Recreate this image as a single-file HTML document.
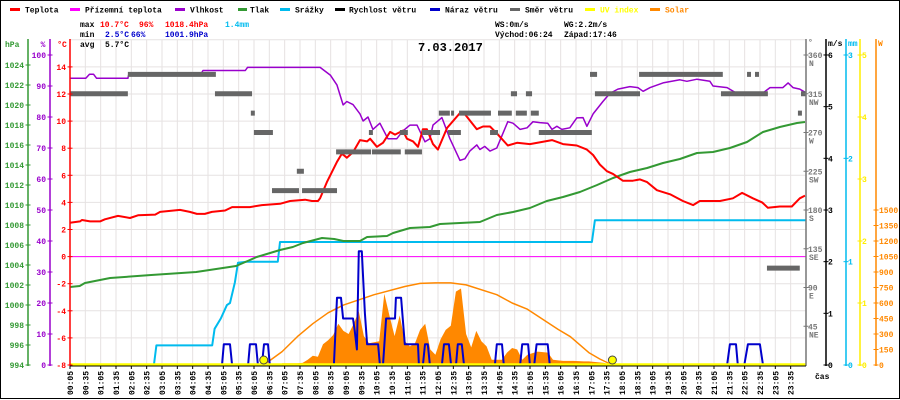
<!DOCTYPE html>
<html><head><meta charset="utf-8"><style>
html,body{margin:0;padding:0;background:#fff;}
svg{display:block;font-family:"Liberation Mono",monospace;}
</style></head><body>
<svg id="chart" width="900" height="400" viewBox="0 0 900 400" xmlns="http://www.w3.org/2000/svg">
<rect x="0.5" y="0.5" width="899" height="398" fill="#fff" stroke="#000"/>
<g id="grid"></g>
<g id="series"></g>
<g id="axes"></g>
<g id="legend" font-size="8" font-weight="bold">
  <g><rect x="10" y="8" width="10" height="3" fill="#f00"/><text x="25" y="12.5">Teplota</text></g>
  <g><rect x="70" y="8" width="10" height="3" fill="#f0f"/><text x="85" y="12.5">Přízemní teplota</text></g>
  <g><rect x="175" y="8" width="10" height="3" fill="#90c"/><text x="190" y="12.5">Vlhkost</text></g>
  <g><rect x="238" y="8" width="9" height="3" fill="#393"/><text x="250" y="12.5">Tlak</text></g>
  <g><rect x="280" y="8" width="10" height="3" fill="#0be"/><text x="295" y="12.5">Srážky</text></g>
  <g><rect x="335" y="8" width="10" height="3" fill="#000"/><text x="349" y="12.5">Rychlost větru</text></g>
  <g><rect x="430" y="8" width="10" height="3" fill="#00c"/><text x="445" y="12.5">Náraz větru</text></g>
  <g><rect x="510" y="8" width="10" height="3" fill="#666"/><text x="525" y="12.5">Směr větru</text></g>
  <g><rect x="585" y="8" width="10" height="3" fill="#ff0"/><text x="600" y="12.5" fill="#ff0">UV index</text></g>
  <g><rect x="650" y="8" width="10" height="3" fill="#f80"/><text x="665" y="12.5" fill="#f80">Solar</text></g>
</g>
<g font-size="8" font-weight="bold">
  <text x="80" y="27">max</text><text x="100" y="27" fill="#f00">10.7°C</text><text x="139" y="27" fill="#f00">96%</text><text x="165" y="27" fill="#f00">1018.4hPa</text><text x="225" y="27" fill="#0be">1.4mm</text>
  <text x="80" y="37">min</text><text x="105" y="37" fill="#00c">2.5°C</text><text x="131" y="37" fill="#00c">66%</text><text x="165" y="37" fill="#00c">1001.9hPa</text>
  <text x="80" y="47">avg</text><text x="105" y="47">5.7°C</text>
  <text x="495" y="27">WS:0m/s</text><text x="564" y="27">WG:2.2m/s</text>
  <text x="495" y="37">Východ:06:24</text><text x="564" y="37">Západ:17:46</text>
</g>
<text x="418" y="51" font-size="12" font-weight="bold">7.03.2017</text>
<text x="815" y="379" font-size="8" font-weight="bold">čas</text>
</svg>
<script>
// ---- data ----
const tempT=[0.08,0.41,0.47,0.74,1.06,1.22,1.65,2.04,2.3,2.86,3.02,3.67,3.99,4.22,4.48,4.71,5.14,5.37,5.95,6.34,6.93,7.26,7.75,7.97,8.17,8.24,8.46,8.79,8.95,9.11,9.31,9.54,9.77,9.87,10.09,10.29,10.52,10.68,10.94,11.07,11.27,11.43,11.59,11.72,11.92,12.08,12.38,12.8,12.96,13.35,13.55,13.78,14.0,14.36,14.66,15.08,15.8,16.16,16.61,16.94,17.14,17.36,17.59,17.79,18.11,18.44,18.67,18.9,19.22,19.65,20.07,20.4,20.62,21.28,21.7,22.0,22.35,22.65,22.84,23.23,23.62,23.88,24.05];
const tempV=[2.5,2.6,2.7,2.6,2.6,2.75,3.0,2.85,3.05,3.1,3.3,3.45,3.3,3.15,3.15,3.3,3.4,3.65,3.65,3.8,3.9,4.1,4.2,4.1,4.1,4.3,5.5,7.0,7.6,7.3,7.7,8.6,8.5,8.7,8.1,8.4,9.2,9.0,9.3,8.7,8.5,8.1,9.4,9.4,8.3,7.9,9.5,10.6,10.5,9.4,9.6,9.6,9.1,8.2,8.4,8.3,8.6,8.3,8.2,7.9,7.5,6.8,6.3,6.1,5.6,5.6,5.7,5.5,4.9,4.6,4.1,3.8,4.1,4.1,4.3,4.7,4.3,4.0,3.6,3.7,3.7,4.3,4.5];
const humT=[0.08,0.6,0.72,0.85,0.95,1.97,2.0,4.35,4.42,5.8,5.87,8.24,8.57,8.79,8.99,9.11,9.31,9.54,9.64,9.8,9.96,10.19,10.45,10.74,10.94,11.17,11.4,11.66,11.82,11.92,12.21,12.47,12.8,12.96,13.12,13.35,13.45,13.61,13.78,14.0,14.17,14.36,14.53,14.76,14.99,15.18,15.4,15.66,15.8,15.96,16.12,16.38,16.61,16.81,16.94,17.14,17.46,17.69,17.95,18.34,18.6,18.77,19.0,19.42,19.97,20.2,20.53,20.95,21.05,21.51,21.93,22.58,22.91,23.33,23.5,23.66,23.88,24.05];
const humV=[92.5,92.5,93.8,93.8,92.5,92.5,93.8,93.8,95,95,96,96,93.5,90.3,83.9,85,84,81,78.7,80,76,78,73,73,75.5,77.4,77.4,72,73,77.4,79.8,73,66,66.5,69,71,69.5,70.5,69,70,74,78.5,78,76,76.5,78.5,78.2,78,76,77,76,76.5,79.7,79.8,77,81,85,87.6,89,89.8,89.5,88.3,89.5,91,92,91.5,92.2,91.5,90,89.5,87,87,89.5,89.5,91,89.5,89,88];
const presT=[0.08,0.4,0.57,1.39,2.73,4.2,5.5,5.95,6.17,6.5,6.93,7.35,7.68,8.3,8.7,9.0,9.54,9.77,10.42,10.62,11.17,11.82,12.15,13.45,14.0,14.53,15.08,15.63,16.16,16.71,17.27,17.79,18.34,18.9,19.42,19.97,20.53,21.05,21.6,22.16,22.68,23.23,23.79,24.05];
const presV=[1001.8,1001.9,1002.2,1002.7,1003.0,1003.3,1003.9,1004.5,1004.8,1005.1,1005.5,1005.8,1006.2,1006.7,1006.6,1006.4,1006.4,1006.8,1006.9,1007.2,1007.7,1007.8,1008.1,1008.3,1009.0,1009.3,1009.7,1010.4,1010.8,1011.3,1012.0,1012.7,1013.3,1013.7,1014.2,1014.6,1015.2,1015.3,1015.7,1016.3,1017.3,1017.8,1018.2,1018.3];
const rainT=[0.08,2.82,2.9,4.72,4.8,5.0,5.2,5.3,5.46,5.56,5.85,6.86,6.93,17.1,17.2,24.08];
const rainV=[0,0,0.19,0.19,0.35,0.45,0.58,0.6,0.8,0.99,1.0,1.0,1.19,1.19,1.4,1.4];
const gustT=[0.08,5.04,5.1,5.3,5.37,5.89,5.95,6.15,6.21,6.34,6.41,6.54,6.6,8.69,8.79,8.92,8.99,9.31,9.37,9.44,9.5,9.6,9.7,9.77,10.13,10.19,10.29,10.39,10.68,10.71,10.88,11.0,11.43,11.46,11.59,11.66,11.75,11.82,12.21,12.28,12.44,12.51,12.67,12.73,12.86,12.93,13.94,14.0,14.17,14.23,14.76,14.83,15.02,15.08,15.22,15.3,15.66,15.73,21.51,21.6,21.8,21.86,22.07,22.19,22.58,22.68,24.08];
const gustV=[0,0,0.4,0.4,0,0,0.4,0.4,0,0,0.4,0.4,0,0,1.3,1.3,0.9,0.9,0.65,0.3,2.2,2.2,1.0,0.4,0.4,0,0,0.9,0.9,1.3,1.3,0.4,0.4,0,0,0.4,0.4,0,0,0.4,0.4,0,0,0.4,0.4,0,0,0.4,0.4,0,0,0.4,0.4,0,0,0.4,0.4,0,0,0.4,0.4,0,0,0.4,0.4,0,0];
const solarStart=7.0;
const solarV=[16,16,16,16,20,50,90,80,200,240,290,400,330,300,400,520,280,210,220,230,690,480,280,480,230,180,210,340,400,150,100,250,340,380,710,740,300,170,330,230,180,50,50,50,120,165,150,50,100,115,130,125,120,50,45,40,40,40,38,35,35,30,25,20,5];
const clearT=[6.4,7,7.5,8,8.5,9,10,11,11.5,12,12.5,13,14,14.5,15,16,16.4,17,17.36,17.77];
const clearV=[0,130,275,400,505,580,680,760,790,795,795,775,680,600,540,345,274,120,58,0];
const dirStart=[0.08,1.97,4.81,5.98,6.08,6.67,7.48,7.65,8.76,9.83,9.93,10.84,11.0,11.56,12.11,11.82,12.41,12.51,12.77,13.78,14.04,14.46,14.62,14.95,15.11,15.37,17.04,17.2,18.64,21.31,22.16,22.42,22.81,23.82,23.92];
const dirEnd=[1.97,4.84,6.02,6.11,6.7,7.55,7.71,8.79,9.9,9.96,10.87,11.1,11.56,12.15,12.47,12.11,12.83,12.6,13.81,14.04,14.49,14.66,14.98,15.15,15.37,17.1,17.27,18.67,21.37,22.84,22.29,22.55,23.88,23.95,24.1];
const dirV=[315,337.5,315,292.5,270,202.5,225,202.5,247.5,270,247.5,270,247.5,270,292.5,270,270,292.5,292.5,270,292.5,315,292.5,315,292.5,270,337.5,315,337.5,315,337.5,337.5,112.5,292.5,315];
const sunEvents=[6.4,17.77];
const xLabels=[];for(let i=0;i<48;i++){const m=5+i*30;xLabels.push(String(Math.floor(m/60)).padStart(2,'0')+':'+String(m%60).padStart(2,'0'));}
const hpaTicks=[994,996,998,1000,1002,1004,1006,1008,1010,1012,1014,1016,1018,1020,1022,1024];
const humTicks=[0,10,20,30,40,50,60,70,80,90,100];
const tempTicks=[-8,-6,-4,-2,0,2,4,6,8,10,12,14];
const dirTicks=[45,90,135,180,225,270,315,360];
const dirNames=['NE','E','SE','S','SW','W','NW','N'];
const msTicks=[0,1,2,3,4,5,6];
const mmTicks=[0,1,2,3];
const uvTicks=[0,1,2,3,4,5];
const wTicks=[0,150,300,450,600,750,900,1050,1200,1350,1500];

// ---- scales ----
const X=h=>70+(h-1/12)*30.667;
const yT=t=>365-(t+8)*13.55;
const yH=v=>365-v*3.1;
const yP=p=>365-(p-994)*10;
const yR=m=>365-m*103.33;
const yW=v=>365-v*51.67;
const yD=d=>365-d*0.8611;
const yS=w=>365-w*0.10333;
const yU=u=>365-u*62;
const NS='http://www.w3.org/2000/svg';
function mk(tag,attrs,parent){const e=document.createElementNS(NS,tag);for(const k in attrs)e.setAttribute(k,attrs[k]);parent.appendChild(e);return e;}
const grid=document.getElementById('grid'),ser=document.getElementById('series'),ax=document.getElementById('axes');

for(let i=0;i<48;i++){const x=70+i*15.333;const l=mk('line',{x1:x,y1:40,x2:x,y2:365,stroke:'#e6e2e2','stroke-width':1},grid);

}
[...tempTicks,16].forEach(t=>{const l=mk('line',{x1:70,y1:yT(t),x2:806,y2:yT(t),stroke:'#e6e2e2','stroke-width':1},grid);

});

function poly(T,V,xf,yf,color,w,name){const pts=T.map((t,i)=>xf(t).toFixed(1)+','+yf(V[i]).toFixed(1)).join(' ');
const p=mk('polyline',{points:pts,fill:'none',stroke:color,'stroke-width':w,'stroke-linejoin':'round'},ser);

return p;}

{let pts=[X(solarStart).toFixed(1)+','+yS(0)];solarV.forEach((v,i)=>{pts.push(X(solarStart+i/6).toFixed(1)+','+yS(v).toFixed(1));});pts.push(X(solarStart+(solarV.length-1)/6).toFixed(1)+','+yS(0));
const p=mk('polygon',{points:pts.join(' '),fill:'#ff8800'},ser);

}
poly(clearT,clearV,X,yS,'#ff8800',1.5,'solar-clear-sky-line');
{const l=mk('line',{x1:70,y1:yT(0),x2:806,y2:yT(0),stroke:'#f0f','stroke-width':1},ser);

}
poly(rainT,rainV,X,yR,'#00bbee',2,'rain-line');
poly(presT,presV,X,yP,'#339933',2,'pressure-line');
poly(humT,humV,X,yH,'#9900cc',1.5,'humidity-line');
poly(tempT,tempV,X,yT,'#ff0000',2,'temperature-line');
dirV.forEach((d,i)=>{const x1=X(dirStart[i]),x2=Math.min(X(dirEnd[i]),808);const r=mk('rect',{x:x1,y:yD(d)-2.5,width:Math.max(x2-x1,3),height:5,fill:'#666'},ser);

});
poly(gustT,gustV,X,yW,'#0000cc',2,'gust-line');
{const l=mk('line',{x1:70,y1:364.5,x2:806,y2:364.5,stroke:'#ff0','stroke-width':2.5},ser);

}
sunEvents.forEach(h=>{const c=mk('circle',{cx:X(h),cy:360,r:4,fill:'#ff0',stroke:'#444','stroke-width':1},ser);

});

function vaxis(x,color,name){const l=mk('line',{x1:x,y1:39,x2:x,y2:366,stroke:color,'stroke-width':1.5},ax);

}
function tlabel(x,y,txt,color,anchor,name){const t=mk('text',{x:x,y:y,fill:color,'font-size':8,'font-weight':'bold','text-anchor':anchor},ax);t.textContent=txt;

return t;}
function tick(x,y,color){mk('line',{x1:x-2.5,y1:y,x2:x+2.5,y2:y,stroke:color,'stroke-width':1},ax);}
vaxis(28,'#339933','hpa-axis');vaxis(50,'#9900cc','humidity-axis');vaxis(70,'#ff0000','temperature-axis');
vaxis(806,'#777','direction-axis');vaxis(826,'#000','wind-speed-axis');vaxis(846,'#00bbee','rain-axis');vaxis(860,'#ffee00','uv-axis');vaxis(876,'#ff8800','solar-axis');
tlabel(5,47,'hPa','#339933','start','hpa-axis-title');tlabel(43,47,'%','#9900cc','middle','humidity-axis-title');tlabel(62,47,'°C','#ff0000','middle','temperature-axis-title');
tlabel(808,45,'°','#777','start','direction-axis-title');tlabel(828,46,'m/s','#000','start','wind-speed-axis-title');tlabel(848,46,'mm','#00bbee','start','rain-axis-title');tlabel(878,46,'W','#ff8800','start','solar-axis-title');
hpaTicks.forEach(p=>{tick(28,yP(p),'#339933');tlabel(24,yP(p)+3,String(p),'#339933','end','hpa-tick-label');});
humTicks.forEach(v=>{tick(50,yH(v),'#9900cc');tlabel(46,yH(v)+3,String(v),'#9900cc','end','humidity-tick-label');});
tempTicks.forEach(v=>{tick(70,yT(v),'#ff0000');tlabel(66,yT(v)+3,String(v),'#ff0000','end','temperature-tick-label');});
dirTicks.forEach((d,i)=>{tick(806,yD(d),'#777');tlabel(808,yD(d)+3,String(d),'#777','start','direction-tick-label');tlabel(809,yD(d)+11,dirNames[i],'#777','start','direction-name-label');});
msTicks.forEach(v=>{tick(826,yW(v),'#000');tlabel(828,yW(v)+3,String(v),'#000','start','wind-speed-tick-label');});
mmTicks.forEach(v=>{tick(846,yR(v),'#00bbee');tlabel(848,yR(v)+3,String(v),'#00bbee','start','rain-tick-label');});
uvTicks.forEach(v=>{tick(860,yU(v),'#ffee00');tlabel(862,yU(v)+3,String(v),'#ffee00','start','uv-tick-label');});
wTicks.forEach(v=>{tick(876,yS(v),'#ff8800');tlabel(879,yS(v)+3,String(v),'#ff8800','start','solar-tick-label');});
{const l=mk('line',{x1:70,y1:366,x2:806,y2:366,stroke:'#000','stroke-width':1},ax);

}
xLabels.forEach((s,i)=>{const x=70+i*15.333;mk('line',{x1:x,y1:366,x2:x,y2:369,stroke:'#000','stroke-width':1},ax);
const t=mk('text',{x:0,y:0,'font-size':8,'font-weight':'bold',transform:`translate(${x+3},395) rotate(-90)`},ax);t.textContent=s;

});
</script>
</body></html>
